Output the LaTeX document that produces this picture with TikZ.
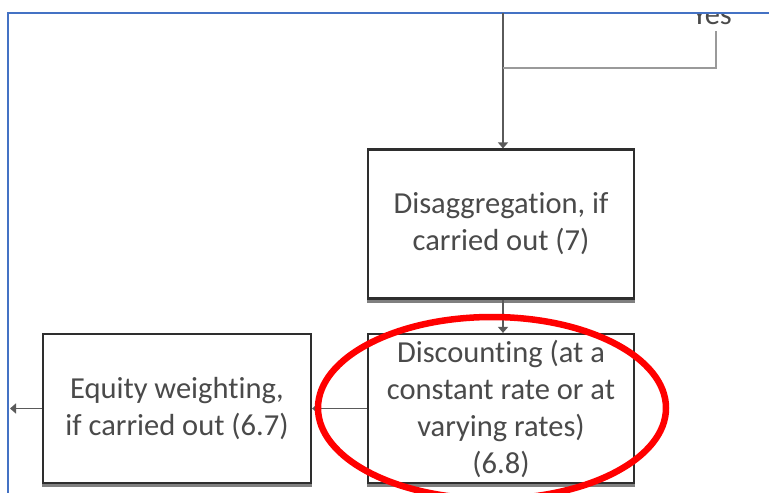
\documentclass[tikz,border=0pt]{standalone}
\usepackage{fontspec}
\setmainfont{Carlito}[Ligatures=NoCommon]
\usetikzlibrary{arrows.meta}
\definecolor{frameblue}{HTML}{4472C4}
\definecolor{txtgray}{HTML}{4A4A4A}
\definecolor{boxline}{HTML}{2E2E2E}
\definecolor{connline}{HTML}{5A5A5A}
\definecolor{branchline}{HTML}{9A9A9A}
\begin{document}
\begin{tikzpicture}[x=1pt,y=-1pt,
  box/.style={draw=boxline, line width=2.2pt, fill=white, minimum height=149pt,
    align=center, inner sep=0pt, font=\fontsize{30.5}{37}\selectfont, text=txtgray},
  conn/.style={draw=connline, line width=1.8pt},
  tipped/.style={-{Triangle[length=6pt,width=10pt]}},
  shade/.style={draw=black!50, line width=3pt}]
\useasboundingbox (0,0) rectangle (769,493);

% frame
\draw[frameblue, line width=2.5pt] (8,493) -- (8,13) -- (769,13);

% clipped "Yes" label
\begin{scope}
  \clip (9.5,14.5) rectangle (769,493);
  \node[anchor=base, font=\fontsize{30.5}{37}\selectfont, text=txtgray, inner sep=0pt] (yes) at (712,24) {Yes};
\end{scope}

% boxes
\node[box, minimum width=266pt] (dis) at (501,224) {Disaggregation, if\\carried out (7)};
\node[box, minimum width=266pt] (disc) at (501,408.5) {Discounting (at a\\constant rate or at\\varying rates)\\(6.8)};
\node[box, minimum width=268pt] (eq) at (177,408.5) {Equity weighting,\\if carried out (6.7)};

% bottom shadows
\foreach \n in {dis,disc,eq}{
  \draw[shade] ([yshift=-1.5pt]\n.south west) -- ([yshift=-1.5pt]\n.south east);
}

% connectors
\coordinate (top) at (503,13);
\coordinate (join) at (503,68);
\coordinate (yesend) at (716,31);
\coordinate (out) at (10,408.5);
\draw[conn, tipped] (top) -- (dis.north -| top);
\draw[draw=branchline, line width=2.8pt] (yesend) |- (join);
\draw[conn, tipped] (dis.south -| top) -- (disc.north -| top);
\draw[conn, tipped] (disc.west) -- (eq.east);
\draw[conn, tipped] (eq.west) -- (out);

% highlight ellipse
\draw[red, line width=6.5pt] (492,408) ellipse [x radius=174, y radius=91];
\end{tikzpicture}
\end{document}
